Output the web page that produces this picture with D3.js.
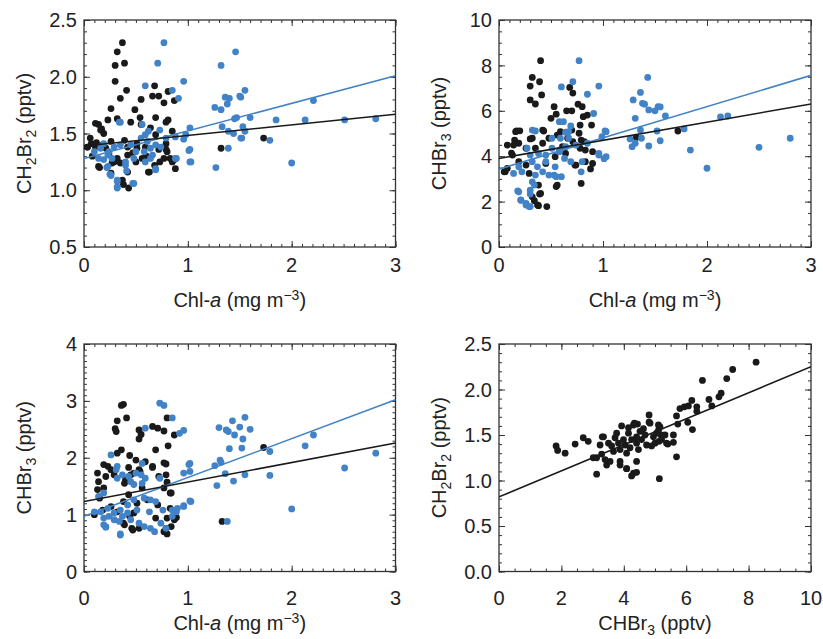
<!DOCTYPE html>
<html>
<head>
<meta charset="utf-8">
<script src="https://cdn.jsdelivr.net/npm/d3@7"></script>
<style>
  body { margin: 0; background: #fff; }
  text { font-family: "Liberation Sans", Arial, sans-serif; fill: #222; }
</style>
</head>
<body>
<div id="chart"></div>
<script>
// Panel a: CH2Br2 vs Chl-a
const p1Black = [
  [0.37,2.30],[0.32,2.22],[0.30,2.10],[0.39,2.12],[0.30,1.96],[0.41,1.88],[0.35,1.81],[0.68,1.92],
  [0.66,1.83],[0.72,1.83],[0.81,1.87],[0.77,1.77],[0.87,1.79],[0.55,1.80],[0.26,1.72],[0.49,1.71],
  [0.54,1.64],[0.69,1.64],[0.81,1.62],[0.14,1.58],[0.17,1.54],[0.19,1.50],[0.55,1.58],[0.15,1.20],
  [0.26,1.15],[0.37,1.09],[0.43,1.02],[0.38,1.05],[0.62,1.16],[1.32,1.37],[1.73,1.46],
  [0.11,1.59],[0.23,1.62],[0.32,1.63],[0.45,1.60],[0.79,1.60],[0.16,1.53],[0.06,1.46],[0.03,1.38],
  [0.11,1.38],[0.26,1.43],[0.39,1.44],[0.42,1.38],[0.51,1.41],[0.64,1.55],[0.69,1.49],[0.79,1.41],
  [0.85,1.52],[0.80,1.34],[0.77,1.28],[0.85,1.25],[0.88,1.19],[0.87,1.27],[0.68,1.22],[0.63,1.16],
  [0.42,1.16],[0.35,1.24],[0.32,1.28],[0.27,1.24],[0.14,1.21],[0.42,1.31],[0.56,1.28],[0.51,1.37],
  [0.59,1.38],[0.08,1.30],[0.21,1.37],[0.50,1.25],[0.035,1.38],[0.07,1.41],[0.29,1.25],[0.73,1.25],
  [0.83,1.28],[0.79,1.36],[0.12,1.42],[0.18,1.40],[0.24,1.32],[0.47,1.33],[0.60,1.30],[0.72,1.36]
];
const p1Blue = [
  [0.77,2.30],[0.71,2.12],[0.59,1.92],[0.85,1.88],[0.96,1.96],[0.91,1.81],[0.35,1.60],[0.56,1.58],
  [0.73,1.53],[0.62,1.52],[1.02,1.55],[0.96,1.45],[1.02,1.36],[1.02,1.25],[0.89,1.28],[0.69,1.19],
  [0.41,1.17],[0.25,1.14],[0.32,1.08],[0.32,1.02],[0.48,1.06],[0.22,1.20],[1.27,1.20],[1.26,1.73],
  [1.32,1.71],[1.36,1.82],[1.40,1.81],[1.38,1.76],[1.46,2.22],[1.32,2.10],[1.51,1.82],[1.47,1.64],
  [1.33,1.56],[1.39,1.52],[1.44,1.50],[1.39,1.37],[1.51,1.46],[1.50,1.83],[1.55,1.88],[1.45,1.63],
  [1.60,1.64],[1.53,1.56],[1.55,1.52],[1.52,1.46],[1.79,1.44],[1.85,1.62],[2.00,1.24],[2.21,1.79],
  [2.13,1.62],[2.51,1.62],[2.81,1.63],
  [0.34,1.60],[0.79,1.46],[0.88,1.47],[0.98,1.49],[0.19,1.41],[0.16,1.37],[0.24,1.34],[0.29,1.38],
  [0.35,1.40],[0.45,1.40],[0.55,1.46],[0.59,1.49],[0.61,1.43],[0.64,1.37],[0.58,1.34],[0.69,1.40],
  [0.66,1.31],[0.74,1.38],[0.48,1.28],[0.50,1.34],[0.40,1.25],[0.23,1.31],[0.23,1.21],[0.14,1.28],
  [0.10,1.34],[0.64,1.28],[0.59,1.25],[0.69,1.18],[0.88,1.28],[1.01,1.35],[1.03,1.25],[0.26,1.13],
  [0.32,1.09],[0.32,1.03],[0.47,1.06],[0.40,1.22],[0.27,1.28],[0.19,1.27]
];
const p1Fit = [ { color: "black", b0: 1.39, b1: 0.093 }, { color: "blue", b0: 1.28, b1: 0.243 } ];

// Panel b: CHBr3 vs Chl-a
const p2Black = [
  [0.40,8.21],[0.32,7.47],[0.30,7.09],[0.39,7.28],[0.41,6.70],[0.30,6.48],[0.35,6.30],[0.68,7.03],
  [0.71,6.78],[0.76,6.29],[0.80,6.18],[0.53,6.18],[0.65,6.00],[0.70,6.00],[0.55,5.85],[0.50,5.67],
  [0.81,5.74],[0.85,5.81],[0.89,5.37],[0.59,5.08],[0.70,5.15],[0.78,5.37],[0.17,5.12],[0.20,5.12],
  [0.43,5.11],[0.30,4.76],[0.15,4.71],[0.19,4.57],[0.12,4.13],[0.06,3.32],[0.79,4.71],[0.78,4.35],
  [0.73,3.61],[0.88,3.44],[0.55,2.66],[0.79,2.80],[0.38,1.82],[0.46,1.78],[0.34,2.04],[0.39,2.33],
  [1.32,4.82],[1.72,5.11],
  [0.16,5.08],[0.32,4.79],[0.42,5.15],[0.48,4.79],[0.56,4.93],[0.66,4.79],[0.77,5.01],[0.82,4.64],
  [0.08,4.49],[0.14,4.49],[0.26,4.35],[0.35,4.35],[0.42,4.57],[0.61,4.42],[0.71,4.64],[0.83,4.27],
  [0.90,4.20],[0.05,3.31],[0.08,3.46],[0.19,3.76],[0.26,3.61],[0.29,3.24],[0.45,3.68],[0.54,3.98],
  [0.64,4.12],[0.74,3.61],[0.83,3.76],[0.90,3.68],[0.38,2.73],[0.56,2.73],[0.32,2.21],[0.40,2.36],
  [0.37,1.85],[0.13,4.05]
];
const p2Blue = [
  [0.77,8.21],[0.71,7.28],[0.60,7.05],[0.85,6.73],[0.96,7.09],[0.91,5.88],[0.58,5.52],[0.62,5.52],
  [0.67,5.08],[0.64,5.06],[0.69,5.33],[1.02,5.11],[0.99,4.86],[1.01,3.89],[0.96,4.05],[0.35,5.11],
  [0.55,3.10],[0.60,3.10],[0.18,2.47],[0.21,2.07],[0.26,1.85],[0.30,1.78],[0.30,2.33],[1.29,6.48],
  [1.36,6.81],[1.38,6.33],[1.40,6.29],[1.31,5.67],[1.43,7.47],[1.44,6.04],[1.36,5.15],[1.26,4.76],
  [1.28,4.42],[1.31,4.57],[1.37,4.79],[1.44,4.45],[1.50,6.00],[1.53,6.18],[1.55,6.17],[1.60,5.77],
  [1.52,5.11],[1.55,4.68],[1.78,5.20],[1.84,4.27],[2.00,3.47],[2.13,5.73],[2.20,5.77],[2.50,4.39],
  [2.80,4.79],
  [0.32,5.15],[0.51,4.79],[0.59,4.79],[0.67,4.79],[0.74,4.49],[0.85,4.57],[0.96,4.12],[1.03,3.98],
  [1.03,5.08],[0.80,3.76],[0.79,3.31],[0.27,4.35],[0.30,4.05],[0.38,4.12],[0.45,4.05],[0.51,4.35],
  [0.58,4.20],[0.63,3.90],[0.69,3.76],[0.19,3.53],[0.14,3.24],[0.22,3.31],[0.32,3.76],[0.37,3.53],
  [0.42,3.31],[0.48,3.17],[0.53,3.17],[0.35,3.17],[0.32,2.87],[0.30,2.50],[0.19,2.43],[0.21,2.06],
  [0.26,1.92],[0.29,1.78],[0.34,2.73],[0.58,4.27],[0.64,4.42],[0.45,3.76],[0.54,3.53]
];
const p2Fit = [ { color: "black", b0: 3.9, b1: 0.80 }, { color: "blue", b0: 3.43, b1: 1.377 } ];

// Panel c: CHBr3 vs Chl-a
const p3Black = [
  [0.38,2.94],[0.36,2.92],[0.41,2.70],[0.32,2.65],[0.30,2.51],[0.31,2.46],[0.53,2.49],[0.55,2.41],
  [0.53,2.33],[0.66,2.55],[0.71,2.52],[0.77,2.47],[0.80,2.70],[0.87,2.40],[0.69,2.14],[0.81,2.21],
  [0.36,2.14],[0.32,2.08],[0.44,2.04],[0.50,1.96],[0.43,1.83],[0.45,1.70],[0.54,1.76],[0.66,1.83],
  [0.79,1.89],[0.72,1.67],[0.83,1.38],[0.80,1.57],[0.43,1.35],[0.38,1.23],[0.44,0.97],[0.46,0.76],
  [0.38,0.85],[0.79,0.76],[0.80,0.66],[0.83,1.11],[0.89,0.95],[1.33,0.88],[1.73,2.18],
  [0.19,1.88],[0.23,1.85],[0.13,1.73],[0.21,1.67],[0.29,1.70],[0.14,1.58],[0.19,1.47],[0.26,1.79],
  [0.40,1.61],[0.48,1.73],[0.53,1.79],[0.59,1.93],[0.66,1.85],[0.77,1.91],[0.79,1.70],[0.84,1.38],
  [0.77,1.47],[0.56,1.47],[0.39,1.55],[0.13,1.44],[0.15,1.29],[0.26,1.14],[0.32,1.05],[0.48,1.03],
  [0.51,1.20],[0.61,1.26],[0.71,1.17],[0.69,0.94],[0.80,0.94],[0.87,0.91],[0.84,0.79],[0.77,0.70],
  [0.47,0.73],[0.39,0.82],[0.53,0.76],[0.18,1.08],[0.10,1.00]
];
const p3Blue = [
  [0.73,2.96],[0.77,2.92],[0.85,2.70],[0.96,2.48],[0.92,2.43],[0.59,2.52],[0.26,2.05],[0.56,1.90],
  [0.73,1.64],[1.02,1.90],[1.02,1.76],[0.96,1.16],[1.02,1.24],[0.89,1.05],[0.85,0.97],[0.35,0.66],
  [0.19,0.82],[0.21,0.78],[1.28,1.51],[1.31,1.96],[1.32,1.92],[1.26,1.86],[1.30,2.53],[1.37,2.49],
  [1.39,2.46],[1.43,2.65],[1.45,2.40],[1.40,2.16],[1.36,1.72],[1.44,1.59],[1.38,0.88],[1.55,2.71],
  [1.50,2.54],[1.60,2.50],[1.53,2.33],[1.52,2.17],[1.79,2.11],[2.13,2.21],[2.21,2.40],[2.81,2.08],
  [2.51,1.82],[1.55,1.70],[1.79,1.69],[2.00,1.10],
  [0.32,1.85],[0.31,1.79],[0.37,1.70],[0.32,1.64],[0.43,1.67],[0.50,1.73],[0.55,1.70],[0.56,1.55],
  [0.48,1.53],[0.45,1.58],[0.59,1.64],[0.96,1.73],[1.01,1.88],[0.19,1.38],[0.14,1.32],[0.16,1.05],
  [0.10,1.05],[0.23,1.11],[0.29,1.03],[0.35,1.08],[0.42,1.17],[0.48,1.26],[0.58,1.29],[0.64,1.26],
  [0.69,1.23],[0.76,1.08],[0.85,1.08],[0.90,1.11],[0.96,1.14],[1.03,1.23],[0.24,0.97],[0.29,0.91],
  [0.34,0.88],[0.37,0.97],[0.45,0.91],[0.53,0.85],[0.58,0.79],[0.64,0.76],[0.68,0.70],[0.79,0.76],
  [0.21,0.79],[0.35,0.64],[0.42,1.03],[0.51,1.08],[0.63,1.05],[0.74,0.85],[0.19,0.94]
];
const p3Fit = [ { color: "black", b0: 1.23, b1: 0.343 }, { color: "blue", b0: 0.97, b1: 0.683 } ];

// Panel d: CH2Br2 vs CHBr3
const p4Black = [
  [1.83,1.38],[1.88,1.33],[2.12,1.30],[2.44,1.40],[2.70,1.47],[2.86,1.43],[3.13,1.07],[3.31,1.48],
  [3.02,1.25],[3.93,1.60],[4.15,1.58],[4.34,1.63],[4.44,1.62],[4.81,1.72],[4.81,1.64],[5.11,1.61],
  [5.14,1.02],[4.25,1.05],[4.41,1.09],[4.09,1.13],[3.88,1.17],[5.69,1.26],[5.69,1.71],[5.73,1.62],
  [5.80,1.79],[5.94,1.81],[6.07,1.82],[6.18,1.88],[6.34,1.81],[6.34,1.76],[6.05,1.64],[6.20,1.56],
  [6.52,2.10],[6.73,1.89],[6.82,1.82],[7.05,1.92],[7.12,1.96],[7.30,2.12],[7.49,2.22],[8.24,2.30],
  [5.59,1.50],[5.59,1.42],[5.41,1.40],[5.19,1.50],[5.13,1.43],[5.11,1.55],
  [3.13,1.25],[3.29,1.29],[3.40,1.23],[3.24,1.39],[3.35,1.48],[3.51,1.41],[3.61,1.38],[3.67,1.32],
  [3.72,1.47],[3.77,1.52],[3.83,1.41],[3.88,1.34],[3.99,1.45],[4.04,1.39],[4.09,1.30],[4.15,1.52],
  [4.20,1.36],[4.25,1.45],[4.31,1.61],[4.41,1.48],[4.41,1.41],[4.47,1.34],[4.52,1.54],[4.57,1.45],
  [4.63,1.57],[4.68,1.50],[4.73,1.39],[4.84,1.63],[4.89,1.38],[4.95,1.48],[5.00,1.41],[5.05,1.52],
  [5.16,1.59],[5.21,1.45],[5.32,1.50],[5.37,1.41],[3.88,1.21],[4.09,1.13],[4.31,1.08],[4.41,1.21],
  [3.56,1.21],[3.45,1.17]
];
const p4Fit = [ { color: "black", b0: 0.82, b1: 0.143 } ];

const colors = { black: "#1a1a1a", blue: "#4282c6" };
const chlTitle = [["Chl-", ""], ["a", "it"], [" (mg m", ""], ["\u22123", "sup"], [")", ""]];
const ch2br2Title = [["CH", ""], ["2", "sub"], ["Br", ""], ["2", "sub"], [" (pptv)", ""]];
const chbr3Title = [["CHBr", ""], ["3", "sub"], [" (pptv)", ""]];

const panels = [
  { box: [84, 20, 395.5, 247], x: [0, 3], xTicks: [0, 1, 2, 3], xMinor: 0.1, y: [0.5, 2.5],
    yTicks: [0.5, 1, 1.5, 2, 2.5], yMinor: 0.1, yFmt: ".1f", xTitle: chlTitle, yTitle: ch2br2Title,
    black: p1Black, blue: p1Blue, fit: p1Fit, labOff: 25, titleOff: 60 },
  { box: [499, 20, 811, 247], x: [0, 3], xTicks: [0, 1, 2, 3], xMinor: 0.1, y: [0, 10],
    yTicks: [0, 2, 4, 6, 8, 10], yMinor: 0.5, yFmt: "d", xTitle: chlTitle, yTitle: chbr3Title,
    black: p2Black, blue: p2Blue, fit: p2Fit, labOff: 25, titleOff: 60 },
  { box: [84, 344, 395.5, 571.5], x: [0, 3], xTicks: [0, 1, 2, 3], xMinor: 0.1, y: [0, 4],
    yTicks: [0, 1, 2, 3, 4], yMinor: 0.1, yFmt: "d", xTitle: chlTitle, yTitle: chbr3Title,
    black: p3Black, blue: p3Blue, fit: p3Fit, labOff: 33, titleOff: 58 },
  { box: [499, 344, 811, 571.5], x: [0, 10], xTicks: [0, 2, 4, 6, 8, 10], xMinor: 0.5, y: [0, 2.5],
    yTicks: [0, 0.5, 1, 1.5, 2, 2.5], yMinor: 0.1, yFmt: ".1f", xTitle: chbr3Title, yTitle: ch2br2Title,
    black: p4Black, blue: [], fit: p4Fit, labOff: 33, titleOff: 58 }
];

const width = 823, height = 639;
const svg = d3.select("#chart").append("svg")
  .attr("width", width).attr("height", height);

function addRich(sel, parts) {
  parts.forEach(([t, kind], i) => {
    const ts = sel.append("tspan").text(t);
    const prev = i > 0 ? parts[i - 1][1] : "";
    let dy = 0;
    if (prev === "sub") dy -= 5;
    if (prev === "sup") dy += 7;
    if (kind === "sub") { dy += 5; ts.attr("font-size", 14); }
    if (kind === "sup") { dy -= 7; ts.attr("font-size", 14); }
    if (kind === "it") ts.attr("font-style", "italic");
    if (dy) ts.attr("dy", dy);
  });
}

panels.forEach((p, i) => {
  const [x0, y0, x1, y1] = p.box;
  const x = d3.scaleLinear().domain(p.x).range([x0, x1]);
  const y = d3.scaleLinear().domain(p.y).range([y1, y0]);
  const g = svg.append("g");
  const clipId = "clip" + i;
  svg.append("clipPath").attr("id", clipId).append("rect")
    .attr("x", x0).attr("y", y0).attr("width", x1 - x0).attr("height", y1 - y0);

  const xMinorVals = d3.range(p.x[0], p.x[1] + 1e-9, p.xMinor);
  const yMinorVals = d3.range(p.y[0], p.y[1] + 1e-9, p.yMinor);
  const axes = [
    [d3.axisBottom(x), `translate(0,${y1})`, p.xTicks, xMinorVals],
    [d3.axisTop(x), `translate(0,${y0})`, p.xTicks, xMinorVals],
    [d3.axisLeft(y), `translate(${x0},0)`, p.yTicks, yMinorVals],
    [d3.axisRight(y), `translate(${x1},0)`, p.yTicks, yMinorVals]
  ];
  axes.forEach(([ax, tr, major, minor]) => {
    g.append("g").attr("transform", tr)
      .call(ax.tickValues(minor).tickSize(-3).tickFormat(""))
      .call(s => s.select(".domain").remove());
    g.append("g").attr("transform", tr)
      .call(ax.tickValues(major).tickSize(-6).tickFormat(""))
      .call(s => s.select(".domain").remove());
  });
  g.selectAll(".tick line").attr("stroke", "#333").attr("stroke-width", 1);

  // tick labels
  const yf = d3.format(p.yFmt);
  g.selectAll(".ylab").data(p.yTicks).join("text")
    .attr("x", x0 - 7).attr("y", d => y(d)).attr("dy", "0.36em")
    .attr("text-anchor", "end").attr("font-size", 20).text(d => yf(d));
  g.selectAll(".xlab").data(p.xTicks).join("text")
    .attr("x", d => x(d)).attr("y", y1 + p.labOff)
    .attr("text-anchor", "middle").attr("font-size", 20).text(d => d);

  // frame
  g.append("rect").attr("x", x0).attr("y", y0)
    .attr("width", x1 - x0).attr("height", y1 - y0)
    .attr("fill", "none").attr("stroke", "#333").attr("stroke-width", 1.3);

  // titles
  const xt = g.append("text").attr("x", (x0 + x1) / 2).attr("y", y1 + p.titleOff)
    .attr("text-anchor", "middle").attr("font-size", 20);
  addRich(xt, p.xTitle);
  const yt = g.append("text")
    .attr("transform", `translate(${x0 - 53},${(y0 + y1) / 2}) rotate(-90)`)
    .attr("text-anchor", "middle").attr("font-size", 20);
  addRich(yt, p.yTitle);

  // points
  const pts = g.append("g").attr("clip-path", `url(#${clipId})`);
  pts.selectAll(".pb").data(p.black).join("circle")
    .attr("cx", d => x(d[0])).attr("cy", d => y(d[1])).attr("r", 3.4)
    .attr("fill", colors.black);
  pts.selectAll(".pu").data(p.blue).join("circle")
    .attr("cx", d => x(d[0])).attr("cy", d => y(d[1])).attr("r", 3.4)
    .attr("fill", colors.blue);

  // regression lines
  pts.selectAll(".fit").data(p.fit.slice().reverse()).join("line")
    .attr("x1", x(p.x[0])).attr("x2", x(p.x[1]))
    .attr("y1", d => y(d.b0 + d.b1 * p.x[0]))
    .attr("y2", d => y(d.b0 + d.b1 * p.x[1]))
    .attr("stroke", d => colors[d.color]).attr("stroke-width", 1.6);
});
</script>
</body>
</html>
